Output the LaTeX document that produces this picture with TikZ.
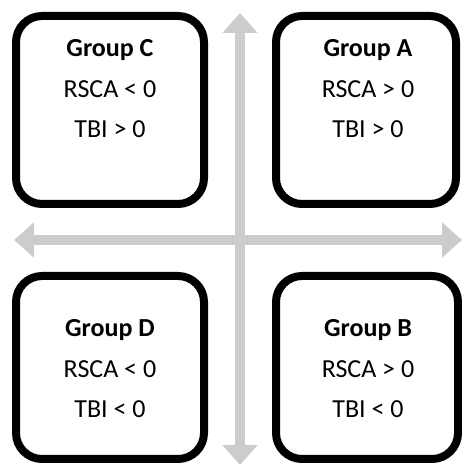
\documentclass[tikz,border=0pt]{standalone}
\usepackage{fontspec}
\setmainfont{Carlito}
\usepackage{tikz}
\usetikzlibrary{arrows, arrows.meta}
\definecolor{axisgray}{RGB}{204,204,204}

\begin{document}
\begin{tikzpicture}[x=1pt, y=1pt]
\tikzstyle{group}=[draw, line width=8pt, rounded corners=26pt, fill=white, inner sep=0pt]
\tikzstyle{axis}=[draw=axisgray, line width=10pt, {Triangle[width=34pt, length=20pt]}-{Triangle[width=34pt, length=20pt]}]
\tikzstyle{txt}=[anchor=base, inner sep=0pt, font=\fontsize{26}{31}\selectfont]
\useasboundingbox (0,0) rectangle (462,465);

\coordinate (top) at (240,452);
\coordinate (bot) at (240,0);
\coordinate (lft) at (14,225);
\coordinate (rgt) at (462,225);

\path
(top) edge[axis] (bot)
(lft) edge[axis] (rgt);

\node[group, minimum width=188pt, minimum height=188pt] (C) at (110,355) {};
\node[group, minimum width=180pt, minimum height=188pt] (A) at (366,355) {};
\node[group, minimum width=188pt, minimum height=183pt] (D) at (110,97.5) {};
\node[group, minimum width=182pt, minimum height=183pt] (B) at (367,97.5) {};

\node[txt] (Ct) at (110,408) {\textbf{Group C}};
\node[txt] (Cr) at (110,367) {RSCA < 0};
\node[txt] (Cb) at (110,327) {TBI > 0};

\node[txt] (At) at (368,408) {\textbf{Group A}};
\node[txt] (Ar) at (368,367) {RSCA > 0};
\node[txt] (Ab) at (368,327) {TBI > 0};

\node[txt] (Dt) at (110,128) {\textbf{Group D}};
\node[txt] (Dr) at (110,87) {RSCA < 0};
\node[txt] (Db) at (110,47) {TBI < 0};

\node[txt] (Bt) at (368,128) {\textbf{Group B}};
\node[txt] (Br) at (368,87) {RSCA > 0};
\node[txt] (Bb) at (368,47) {TBI < 0};

\end{tikzpicture}
\end{document}
